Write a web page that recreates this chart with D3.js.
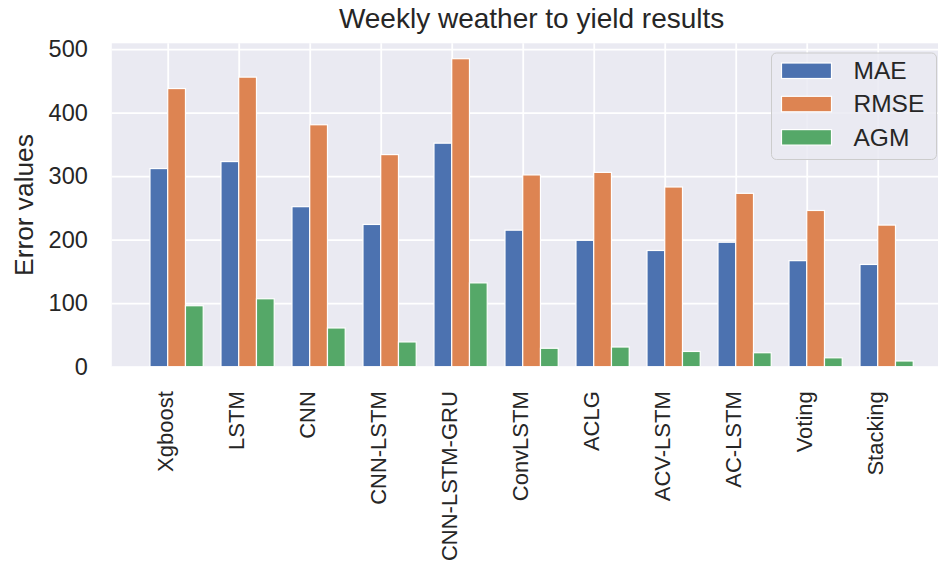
<!DOCTYPE html>
<html>
<head>
<meta charset="utf-8">
<script src="https://cdnjs.cloudflare.com/ajax/libs/d3/7.8.5/d3.min.js"></script>
<style>
  html, body { margin: 0; padding: 0; background: #ffffff; }
  svg { display: block; }
  text { font-family: "Liberation Sans", Arial, sans-serif; fill: #262626; }
</style>
</head>
<body>
<script>
// Models compared on weekly weather → yield prediction
const models = ["Xgboost", "LSTM", "CNN", "CNN-LSTM", "CNN-LSTM-GRU", "ConvLSTM",
                "ACLG", "ACV-LSTM", "AC-LSTM", "Voting", "Stacking"];
const maeValues  = [312, 323, 252, 224, 352, 215, 199, 183, 196, 167, 161];
const rmseValues = [438, 456, 381, 334, 485, 302, 306, 283, 273, 246, 223];
const agmValues  = [96, 107, 61, 39, 132, 29, 31, 24, 22, 14, 9];
const seriesNames = ["MAE", "RMSE", "AGM"];
const seriesColors = ["#4C72B0", "#DD8452", "#55A868"];
const yTicks = [0, 100, 200, 300, 400, 500];

const W = 938, H = 569;
const plot = { left: 111.8, right: 951.4, top: 43.3, bottom: 366.7 };
const barW = 0.25;
const offsets = [-barW / 2, barW / 2, barW * 1.5];
const series = [maeValues, rmseValues, agmValues];

const svg = d3.select("body").append("svg")
  .attr("width", W).attr("height", H);

// x extent: bar span plus 5% margins on each side
const lo = -barW, hi = models.length - 1 + barW * 2;
const pad = (hi - lo) * 0.05;
const x = d3.scaleLinear().domain([lo - pad, hi + pad]).range([plot.left, plot.right]);
const yMax = d3.max(series.flat()) * 1.05;
const y = d3.scaleLinear().domain([0, yMax]).range([plot.bottom, plot.top]);

// axes background
svg.append("rect")
  .attr("x", plot.left).attr("y", plot.top)
  .attr("width", plot.right - plot.left).attr("height", plot.bottom - plot.top)
  .attr("fill", "#EAEAF2");

// y axis with white gridlines
const yAxis = svg.append("g")
  .attr("transform", `translate(${plot.left},0)`)
  .call(d3.axisLeft(y).tickValues(yTicks).tickFormat(d3.format("d"))
    .tickSize(-(plot.right - plot.left)).tickPadding(24));
yAxis.select(".domain").remove();
yAxis.selectAll(".tick line").attr("stroke", "#ffffff").attr("stroke-width", 1.8);
yAxis.selectAll(".tick text").style("font-size", "23.5px").attr("fill", "#262626");

// x axis with white gridlines and rotated labels
const xAxis = svg.append("g")
  .attr("transform", `translate(0,${plot.bottom})`)
  .call(d3.axisBottom(x).tickValues(d3.range(models.length))
    .tickFormat(i => models[i])
    .tickSize(-(plot.bottom - plot.top)).tickPadding(0));
xAxis.select(".domain").remove();
xAxis.selectAll(".tick line").attr("stroke", "#ffffff").attr("stroke-width", 1.8);
xAxis.selectAll(".tick text")
  .style("font-size", "22px").attr("fill", "#262626")
  .attr("text-anchor", "end")
  .attr("transform", "rotate(-90)")
  .attr("x", -24.5).attr("y", 0).attr("dy", "0.22em");

// bars
series.forEach((vals, s) => {
  svg.append("g").selectAll("rect")
    .data(vals)
    .join("rect")
    .attr("x", (d, i) => x(i + offsets[s] - barW / 2))
    .attr("width", x(barW) - x(0))
    .attr("y", d => y(d))
    .attr("height", d => y(0) - y(d))
    .attr("fill", seriesColors[s])
    .attr("stroke", "#ffffff")
    .attr("stroke-width", 1.2);
});

// title
svg.append("text")
  .attr("x", (plot.left + plot.right) / 2).attr("y", 27.8)
  .attr("text-anchor", "middle")
  .style("font-size", "28px")
  .text("Weekly weather to yield results");

// y label
svg.append("text")
  .attr("transform", `translate(33,${(plot.top + plot.bottom) / 2}) rotate(-90)`)
  .attr("text-anchor", "middle")
  .style("font-size", "26.3px")
  .text("Error values");

// legend
const lg = svg.append("g").attr("transform", "translate(771.5,53)");
lg.append("rect")
  .attr("width", 165).attr("height", 106.5)
  .attr("rx", 5).attr("ry", 5)
  .attr("fill", "#EAEAF2").attr("fill-opacity", 0.85)
  .attr("stroke", "#CCCCCC").attr("stroke-width", 1);
seriesNames.forEach((name, i) => {
  const row = lg.append("g").attr("transform", `translate(0,${10 + i * 33.3})`);
  row.append("rect")
    .attr("x", 10).attr("y", 0).attr("width", 50).attr("height", 15.5)
    .attr("fill", seriesColors[i]).attr("stroke", "#ffffff").attr("stroke-width", 1.2);
  row.append("text")
    .attr("x", 82).attr("y", 16)
    .style("font-size", "24.5px")
    .text(name);
});
</script>
</body>
</html>
